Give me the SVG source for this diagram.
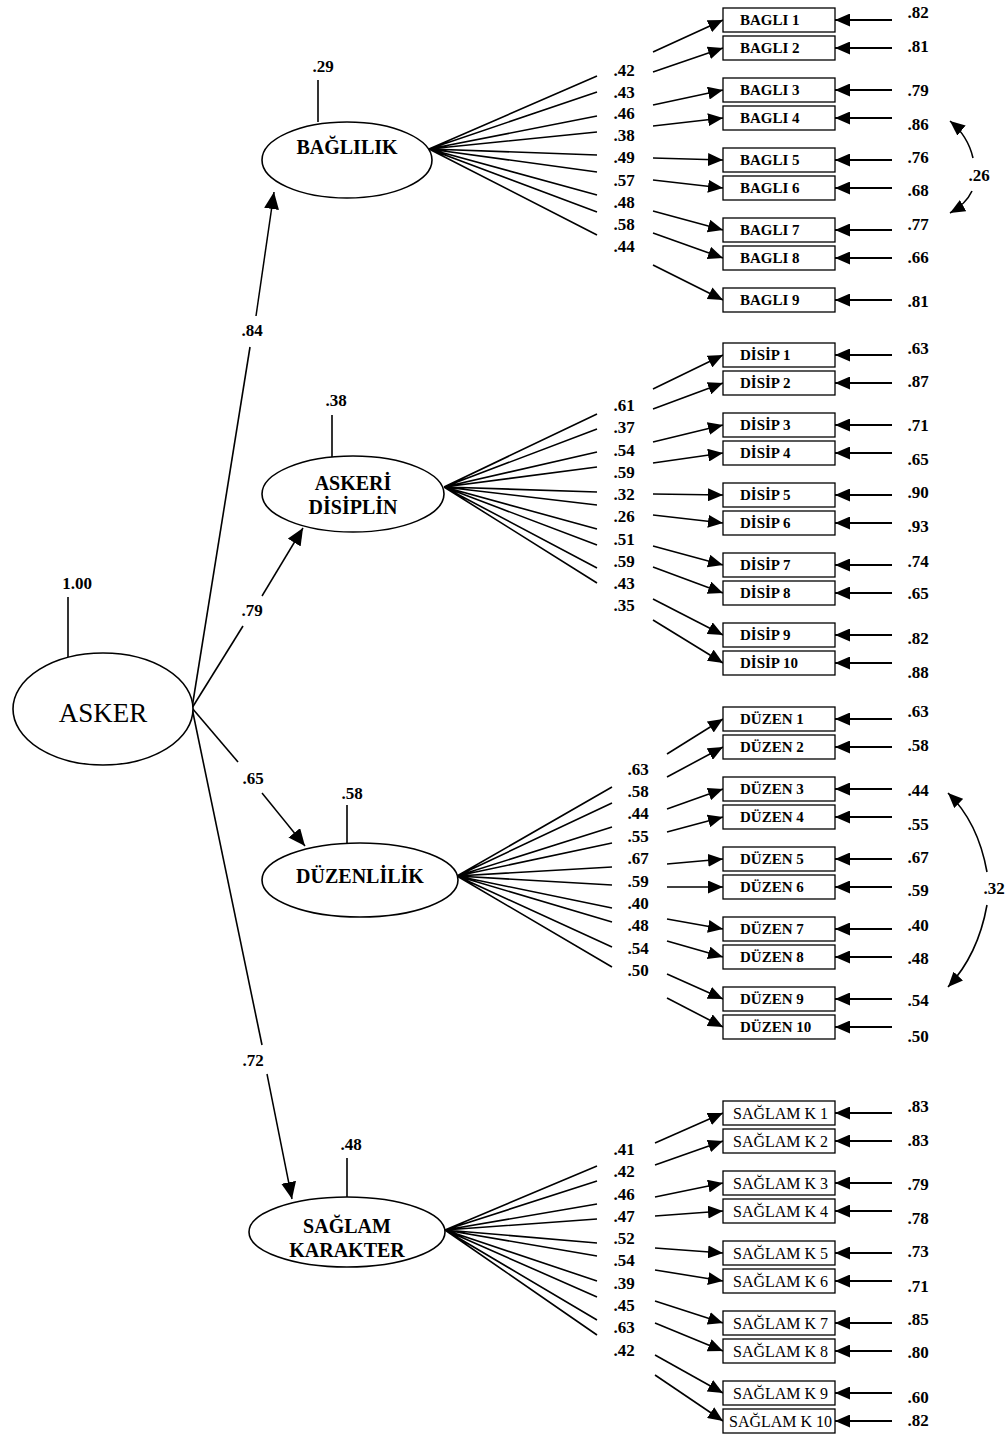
<svg xmlns="http://www.w3.org/2000/svg" width="1006" height="1435" viewBox="0 0 1006 1435">
<style>
.bg{fill:#fff}
.ell{fill:#fff;stroke:#000;stroke-width:1.6}
.box{fill:#fff;stroke:#000;stroke-width:1.3}
.ln{stroke:#000;stroke-width:1.6;fill:none}
.ar{stroke:#000;stroke-width:1.6;fill:none;marker-end:url(#ah)}
.arL{stroke:#000;stroke-width:1.5;fill:none;marker-end:url(#ahL)}
.er{stroke:#000;stroke-width:2;fill:none;marker-end:url(#ah)}
text{font-family:"Liberation Serif","Times New Roman",serif;fill:#000}
.num{font-size:17px;font-weight:bold;text-anchor:middle}
.bx{font-size:15px;font-weight:bold}
.sk{font-size:16px}
.fac{font-size:20px;font-weight:bold;text-anchor:middle}
.big{font-size:27px;text-anchor:middle}
</style>
<defs>
<marker id="ah" viewBox="0 0 15 13" refX="15" refY="6.5" markerWidth="15" markerHeight="13" markerUnits="userSpaceOnUse" orient="auto"><path d="M0,0 L15,6.5 L0,13 z" fill="#000"/></marker>
<marker id="ahL" viewBox="0 0 17 15" refX="17" refY="7.5" markerWidth="17" markerHeight="15" markerUnits="userSpaceOnUse" orient="auto"><path d="M0,0 L17,7.5 L0,15 z" fill="#000"/></marker>
</defs>
<rect class="bg" x="0" y="0" width="1006" height="1435"/>

<g id="connectors">
<line class="ln" x1="192" y1="708" x2="250" y2="347"/>
<line class="arL" x1="256" y1="316" x2="274" y2="192"/>
<line class="ln" x1="192" y1="708" x2="243" y2="626"/>
<line class="arL" x1="262" y1="596" x2="303" y2="528"/>
<line class="ln" x1="192" y1="708" x2="238" y2="762"/>
<line class="arL" x1="262" y1="793" x2="305" y2="846"/>
<line class="ln" x1="192" y1="708" x2="262" y2="1045"/>
<line class="arL" x1="267" y1="1074" x2="292" y2="1199"/>
<line class="ln" x1="68" y1="597" x2="68" y2="657"/>
<line class="ln" x1="318" y1="80" x2="318" y2="122"/>
<line class="ln" x1="332" y1="415" x2="332" y2="457"/>
<line class="ln" x1="347" y1="805" x2="347" y2="843"/>
<line class="ln" x1="347" y1="1158" x2="347" y2="1197"/>

<path class="ln" d="M429 149 L597 76 M429 149 L597 92 M429 149 L597 116 M429 149 L597 132 M429 149 L597 155 M429 149 L597 172 M429 149 L597 195 M429 149 L597 212 M429 149 L597 235"/>
<line class="ar" x1="653" y1="52" x2="723" y2="20"/>
<line class="ar" x1="653" y1="72" x2="723" y2="48"/>
<line class="ar" x1="653" y1="105" x2="723" y2="90"/>
<line class="ar" x1="653" y1="126" x2="723" y2="118"/>
<line class="ar" x1="653" y1="158" x2="723" y2="160"/>
<line class="ar" x1="653" y1="180" x2="723" y2="188"/>
<line class="ar" x1="653" y1="211" x2="723" y2="230"/>
<line class="ar" x1="653" y1="233" x2="723" y2="258"/>
<line class="ar" x1="653" y1="265" x2="723" y2="300"/>
<line class="er" x1="892" y1="20" x2="835" y2="20"/>
<line class="er" x1="892" y1="48" x2="835" y2="48"/>
<line class="er" x1="892" y1="90" x2="835" y2="90"/>
<line class="er" x1="892" y1="118" x2="835" y2="118"/>
<line class="er" x1="892" y1="160" x2="835" y2="160"/>
<line class="er" x1="892" y1="188" x2="835" y2="188"/>
<line class="er" x1="892" y1="230" x2="835" y2="230"/>
<line class="er" x1="892" y1="258" x2="835" y2="258"/>
<line class="er" x1="892" y1="300" x2="835" y2="300"/>
<path class="ar" d="M973 158 Q968 136 950 121"/>
<path class="ar" d="M972 191 Q966 204 950 213"/>

<path class="ln" d="M444 487 L597 414 M444 487 L597 429 M444 487 L597 452 M444 487 L597 467 M444 487 L597 492 M444 487 L597 505 M444 487 L597 529 M444 487 L597 545 M444 487 L597 568 M444 487 L597 583"/>
<line class="ar" x1="653" y1="389" x2="723" y2="355"/>
<line class="ar" x1="653" y1="409" x2="723" y2="383"/>
<line class="ar" x1="653" y1="442" x2="723" y2="425"/>
<line class="ar" x1="653" y1="463" x2="723" y2="453"/>
<line class="ar" x1="653" y1="494" x2="723" y2="495"/>
<line class="ar" x1="653" y1="515" x2="723" y2="523"/>
<line class="ar" x1="653" y1="546" x2="723" y2="565"/>
<line class="ar" x1="653" y1="567" x2="723" y2="593"/>
<line class="ar" x1="653" y1="599" x2="723" y2="635"/>
<line class="ar" x1="653" y1="620" x2="723" y2="663"/>
<line class="er" x1="892" y1="355" x2="835" y2="355"/>
<line class="er" x1="892" y1="383" x2="835" y2="383"/>
<line class="er" x1="892" y1="425" x2="835" y2="425"/>
<line class="er" x1="892" y1="453" x2="835" y2="453"/>
<line class="er" x1="892" y1="495" x2="835" y2="495"/>
<line class="er" x1="892" y1="523" x2="835" y2="523"/>
<line class="er" x1="892" y1="565" x2="835" y2="565"/>
<line class="er" x1="892" y1="593" x2="835" y2="593"/>
<line class="er" x1="892" y1="635" x2="835" y2="635"/>
<line class="er" x1="892" y1="663" x2="835" y2="663"/>

<path class="ln" d="M457 876 L612 787 M457 876 L612 803 M457 876 L612 827 M457 876 L612 843 M457 876 L612 867 M457 876 L612 885 M457 876 L612 908 M457 876 L612 922 M457 876 L612 947 M457 876 L612 967"/>
<line class="ar" x1="667" y1="754" x2="723" y2="719"/>
<line class="ar" x1="667" y1="777" x2="723" y2="747"/>
<line class="ar" x1="667" y1="809" x2="723" y2="789"/>
<line class="ar" x1="667" y1="832" x2="723" y2="817"/>
<line class="ar" x1="667" y1="864" x2="723" y2="859"/>
<line class="ar" x1="667" y1="887" x2="723" y2="887"/>
<line class="ar" x1="667" y1="919" x2="723" y2="929"/>
<line class="ar" x1="667" y1="941" x2="723" y2="957"/>
<line class="ar" x1="667" y1="974" x2="723" y2="999"/>
<line class="ar" x1="667" y1="998" x2="723" y2="1027"/>
<line class="er" x1="892" y1="719" x2="835" y2="719"/>
<line class="er" x1="892" y1="747" x2="835" y2="747"/>
<line class="er" x1="892" y1="789" x2="835" y2="789"/>
<line class="er" x1="892" y1="817" x2="835" y2="817"/>
<line class="er" x1="892" y1="859" x2="835" y2="859"/>
<line class="er" x1="892" y1="887" x2="835" y2="887"/>
<line class="er" x1="892" y1="929" x2="835" y2="929"/>
<line class="er" x1="892" y1="957" x2="835" y2="957"/>
<line class="er" x1="892" y1="999" x2="835" y2="999"/>
<line class="er" x1="892" y1="1027" x2="835" y2="1027"/>
<path class="ar" d="M987 872 Q978 822 948 793"/>
<path class="ar" d="M987 905 Q978 955 948 987"/>

<path class="ln" d="M445 1230 L597 1166 M445 1230 L597 1181 M445 1230 L597 1204 M445 1230 L597 1219 M445 1230 L597 1243 M445 1230 L597 1256 M445 1230 L597 1281 M445 1230 L597 1297 M445 1230 L597 1320 M445 1230 L597 1335"/>
<line class="ar" x1="655" y1="1143" x2="723" y2="1113"/>
<line class="ar" x1="655" y1="1165" x2="723" y2="1141"/>
<line class="ar" x1="655" y1="1197" x2="723" y2="1183"/>
<line class="ar" x1="655" y1="1216" x2="723" y2="1211"/>
<line class="ar" x1="655" y1="1248" x2="723" y2="1253"/>
<line class="ar" x1="655" y1="1270" x2="723" y2="1281"/>
<line class="ar" x1="655" y1="1301" x2="723" y2="1323"/>
<line class="ar" x1="655" y1="1323" x2="723" y2="1351"/>
<line class="ar" x1="655" y1="1355" x2="723" y2="1393"/>
<line class="ar" x1="655" y1="1375" x2="723" y2="1421"/>
<line class="er" x1="892" y1="1113" x2="835" y2="1113"/>
<line class="er" x1="892" y1="1141" x2="835" y2="1141"/>
<line class="er" x1="892" y1="1183" x2="835" y2="1183"/>
<line class="er" x1="892" y1="1211" x2="835" y2="1211"/>
<line class="er" x1="892" y1="1253" x2="835" y2="1253"/>
<line class="er" x1="892" y1="1281" x2="835" y2="1281"/>
<line class="er" x1="892" y1="1323" x2="835" y2="1323"/>
<line class="er" x1="892" y1="1351" x2="835" y2="1351"/>
<line class="er" x1="892" y1="1393" x2="835" y2="1393"/>
<line class="er" x1="892" y1="1421" x2="835" y2="1421"/>
</g>

<g id="labels">
<text class="num" x="77" y="589">1.00</text>
<text class="num" x="252" y="336">.84</text>
<text class="num" x="252" y="616">.79</text>
<text class="num" x="253" y="784">.65</text>
<text class="num" x="253" y="1066">.72</text>
<text class="num" x="323" y="72">.29</text>
<text class="num" x="336" y="406">.38</text>
<text class="num" x="352" y="799">.58</text>
<text class="num" x="351" y="1150">.48</text>
<text class="num" x="624" y="76">.42</text>
<text class="num" x="624" y="98">.43</text>
<text class="num" x="624" y="119">.46</text>
<text class="num" x="624" y="141">.38</text>
<text class="num" x="624" y="163">.49</text>
<text class="num" x="624" y="186">.57</text>
<text class="num" x="624" y="208">.48</text>
<text class="num" x="624" y="230">.58</text>
<text class="num" x="624" y="252">.44</text>
<text class="num" x="918" y="18">.82</text>
<text class="num" x="918" y="52">.81</text>
<text class="num" x="918" y="96">.79</text>
<text class="num" x="918" y="130">.86</text>
<text class="num" x="918" y="163">.76</text>
<text class="num" x="918" y="196">.68</text>
<text class="num" x="918" y="230">.77</text>
<text class="num" x="918" y="263">.66</text>
<text class="num" x="918" y="307">.81</text>
<text class="num" x="979" y="181">.26</text>
<text class="num" x="624" y="411">.61</text>
<text class="num" x="624" y="433">.37</text>
<text class="num" x="624" y="456">.54</text>
<text class="num" x="624" y="478">.59</text>
<text class="num" x="624" y="500">.32</text>
<text class="num" x="624" y="522">.26</text>
<text class="num" x="624" y="545">.51</text>
<text class="num" x="624" y="567">.59</text>
<text class="num" x="624" y="589">.43</text>
<text class="num" x="624" y="611">.35</text>
<text class="num" x="918" y="354">.63</text>
<text class="num" x="918" y="387">.87</text>
<text class="num" x="918" y="431">.71</text>
<text class="num" x="918" y="465">.65</text>
<text class="num" x="918" y="498">.90</text>
<text class="num" x="918" y="532">.93</text>
<text class="num" x="918" y="567">.74</text>
<text class="num" x="918" y="599">.65</text>
<text class="num" x="918" y="644">.82</text>
<text class="num" x="918" y="678">.88</text>
<text class="num" x="638" y="775">.63</text>
<text class="num" x="638" y="797">.58</text>
<text class="num" x="638" y="819">.44</text>
<text class="num" x="638" y="842">.55</text>
<text class="num" x="638" y="864">.67</text>
<text class="num" x="638" y="887">.59</text>
<text class="num" x="638" y="909">.40</text>
<text class="num" x="638" y="931">.48</text>
<text class="num" x="638" y="954">.54</text>
<text class="num" x="638" y="976">.50</text>
<text class="num" x="918" y="717">.63</text>
<text class="num" x="918" y="751">.58</text>
<text class="num" x="918" y="796">.44</text>
<text class="num" x="918" y="830">.55</text>
<text class="num" x="918" y="863">.67</text>
<text class="num" x="918" y="896">.59</text>
<text class="num" x="918" y="931">.40</text>
<text class="num" x="918" y="964">.48</text>
<text class="num" x="918" y="1006">.54</text>
<text class="num" x="918" y="1042">.50</text>
<text class="num" x="994" y="894">.32</text>
<text class="num" x="624" y="1155">.41</text>
<text class="num" x="624" y="1177">.42</text>
<text class="num" x="624" y="1200">.46</text>
<text class="num" x="624" y="1222">.47</text>
<text class="num" x="624" y="1244">.52</text>
<text class="num" x="624" y="1266">.54</text>
<text class="num" x="624" y="1289">.39</text>
<text class="num" x="624" y="1311">.45</text>
<text class="num" x="624" y="1333">.63</text>
<text class="num" x="624" y="1356">.42</text>
<text class="num" x="918" y="1112">.83</text>
<text class="num" x="918" y="1146">.83</text>
<text class="num" x="918" y="1190">.79</text>
<text class="num" x="918" y="1224">.78</text>
<text class="num" x="918" y="1257">.73</text>
<text class="num" x="918" y="1292">.71</text>
<text class="num" x="918" y="1325">.85</text>
<text class="num" x="918" y="1358">.80</text>
<text class="num" x="918" y="1403">.60</text>
<text class="num" x="918" y="1426">.82</text>
</g>

<g id="ASKER"><ellipse class="ell" cx="103" cy="709" rx="90" ry="56"/><text class="big" x="103" y="722">ASKER</text></g>
<g id="BAGLILIK"><ellipse class="ell" cx="347" cy="160" rx="85" ry="38"/><text class="fac" x="347" y="154">BAĞLILIK</text></g>
<g id="ASKERI_DISIPLIN"><ellipse class="ell" cx="353" cy="494" rx="91" ry="38"/><text class="fac" x="353" y="490">ASKERİ</text><text class="fac" x="353" y="514">DİSİPLİN</text></g>
<g id="DUZENLILIK"><ellipse class="ell" cx="360" cy="880" rx="98" ry="37"/><text class="fac" x="360" y="883">DÜZENLİLİK</text></g>
<g id="SAGLAM_KARAKTER"><ellipse class="ell" cx="347" cy="1232" rx="98" ry="35"/><text class="fac" x="347" y="1233">SAĞLAM</text><text class="fac" x="347" y="1257">KARAKTER</text></g>

<g id="BAGLI1"><rect class="box" x="723" y="8" width="112" height="24"/><text class="bx" x="740" y="25">BAGLI 1</text></g>
<g id="BAGLI2"><rect class="box" x="723" y="36" width="112" height="24"/><text class="bx" x="740" y="53">BAGLI 2</text></g>
<g id="BAGLI3"><rect class="box" x="723" y="78" width="112" height="24"/><text class="bx" x="740" y="95">BAGLI 3</text></g>
<g id="BAGLI4"><rect class="box" x="723" y="106" width="112" height="24"/><text class="bx" x="740" y="123">BAGLI 4</text></g>
<g id="BAGLI5"><rect class="box" x="723" y="148" width="112" height="24"/><text class="bx" x="740" y="165">BAGLI 5</text></g>
<g id="BAGLI6"><rect class="box" x="723" y="176" width="112" height="24"/><text class="bx" x="740" y="193">BAGLI 6</text></g>
<g id="BAGLI7"><rect class="box" x="723" y="218" width="112" height="24"/><text class="bx" x="740" y="235">BAGLI 7</text></g>
<g id="BAGLI8"><rect class="box" x="723" y="246" width="112" height="24"/><text class="bx" x="740" y="263">BAGLI 8</text></g>
<g id="BAGLI9"><rect class="box" x="723" y="288" width="112" height="24"/><text class="bx" x="740" y="305">BAGLI 9</text></g>

<g id="DISIP1"><rect class="box" x="723" y="343" width="112" height="24"/><text class="bx" x="740" y="360">DİSİP 1</text></g>
<g id="DISIP2"><rect class="box" x="723" y="371" width="112" height="24"/><text class="bx" x="740" y="388">DİSİP 2</text></g>
<g id="DISIP3"><rect class="box" x="723" y="413" width="112" height="24"/><text class="bx" x="740" y="430">DİSİP 3</text></g>
<g id="DISIP4"><rect class="box" x="723" y="441" width="112" height="24"/><text class="bx" x="740" y="458">DİSİP 4</text></g>
<g id="DISIP5"><rect class="box" x="723" y="483" width="112" height="24"/><text class="bx" x="740" y="500">DİSİP 5</text></g>
<g id="DISIP6"><rect class="box" x="723" y="511" width="112" height="24"/><text class="bx" x="740" y="528">DİSİP 6</text></g>
<g id="DISIP7"><rect class="box" x="723" y="553" width="112" height="24"/><text class="bx" x="740" y="570">DİSİP 7</text></g>
<g id="DISIP8"><rect class="box" x="723" y="581" width="112" height="24"/><text class="bx" x="740" y="598">DİSİP 8</text></g>
<g id="DISIP9"><rect class="box" x="723" y="623" width="112" height="24"/><text class="bx" x="740" y="640">DİSİP 9</text></g>
<g id="DISIP10"><rect class="box" x="723" y="651" width="112" height="24"/><text class="bx" x="740" y="668">DİSİP 10</text></g>

<g id="DUZEN1"><rect class="box" x="723" y="707" width="112" height="24"/><text class="bx" x="740" y="724">DÜZEN 1</text></g>
<g id="DUZEN2"><rect class="box" x="723" y="735" width="112" height="24"/><text class="bx" x="740" y="752">DÜZEN 2</text></g>
<g id="DUZEN3"><rect class="box" x="723" y="777" width="112" height="24"/><text class="bx" x="740" y="794">DÜZEN 3</text></g>
<g id="DUZEN4"><rect class="box" x="723" y="805" width="112" height="24"/><text class="bx" x="740" y="822">DÜZEN 4</text></g>
<g id="DUZEN5"><rect class="box" x="723" y="847" width="112" height="24"/><text class="bx" x="740" y="864">DÜZEN 5</text></g>
<g id="DUZEN6"><rect class="box" x="723" y="875" width="112" height="24"/><text class="bx" x="740" y="892">DÜZEN 6</text></g>
<g id="DUZEN7"><rect class="box" x="723" y="917" width="112" height="24"/><text class="bx" x="740" y="934">DÜZEN 7</text></g>
<g id="DUZEN8"><rect class="box" x="723" y="945" width="112" height="24"/><text class="bx" x="740" y="962">DÜZEN 8</text></g>
<g id="DUZEN9"><rect class="box" x="723" y="987" width="112" height="24"/><text class="bx" x="740" y="1004">DÜZEN 9</text></g>
<g id="DUZEN10"><rect class="box" x="723" y="1015" width="112" height="24"/><text class="bx" x="740" y="1032">DÜZEN 10</text></g>

<g id="SAGLAMK1"><rect class="box" x="723" y="1101" width="112" height="24"/><text class="sk" x="733" y="1119">SAĞLAM K 1</text></g>
<g id="SAGLAMK2"><rect class="box" x="723" y="1129" width="112" height="24"/><text class="sk" x="733" y="1147">SAĞLAM K 2</text></g>
<g id="SAGLAMK3"><rect class="box" x="723" y="1171" width="112" height="24"/><text class="sk" x="733" y="1189">SAĞLAM K 3</text></g>
<g id="SAGLAMK4"><rect class="box" x="723" y="1199" width="112" height="24"/><text class="sk" x="733" y="1217">SAĞLAM K 4</text></g>
<g id="SAGLAMK5"><rect class="box" x="723" y="1241" width="112" height="24"/><text class="sk" x="733" y="1259">SAĞLAM K 5</text></g>
<g id="SAGLAMK6"><rect class="box" x="723" y="1269" width="112" height="24"/><text class="sk" x="733" y="1287">SAĞLAM K 6</text></g>
<g id="SAGLAMK7"><rect class="box" x="723" y="1311" width="112" height="24"/><text class="sk" x="733" y="1329">SAĞLAM K 7</text></g>
<g id="SAGLAMK8"><rect class="box" x="723" y="1339" width="112" height="24"/><text class="sk" x="733" y="1357">SAĞLAM K 8</text></g>
<g id="SAGLAMK9"><rect class="box" x="723" y="1381" width="112" height="24"/><text class="sk" x="733" y="1399">SAĞLAM K 9</text></g>
<g id="SAGLAMK10"><rect class="box" x="723" y="1409" width="112" height="24"/><text class="sk" x="729" y="1427">SAĞLAM K 10</text></g>
</svg>
